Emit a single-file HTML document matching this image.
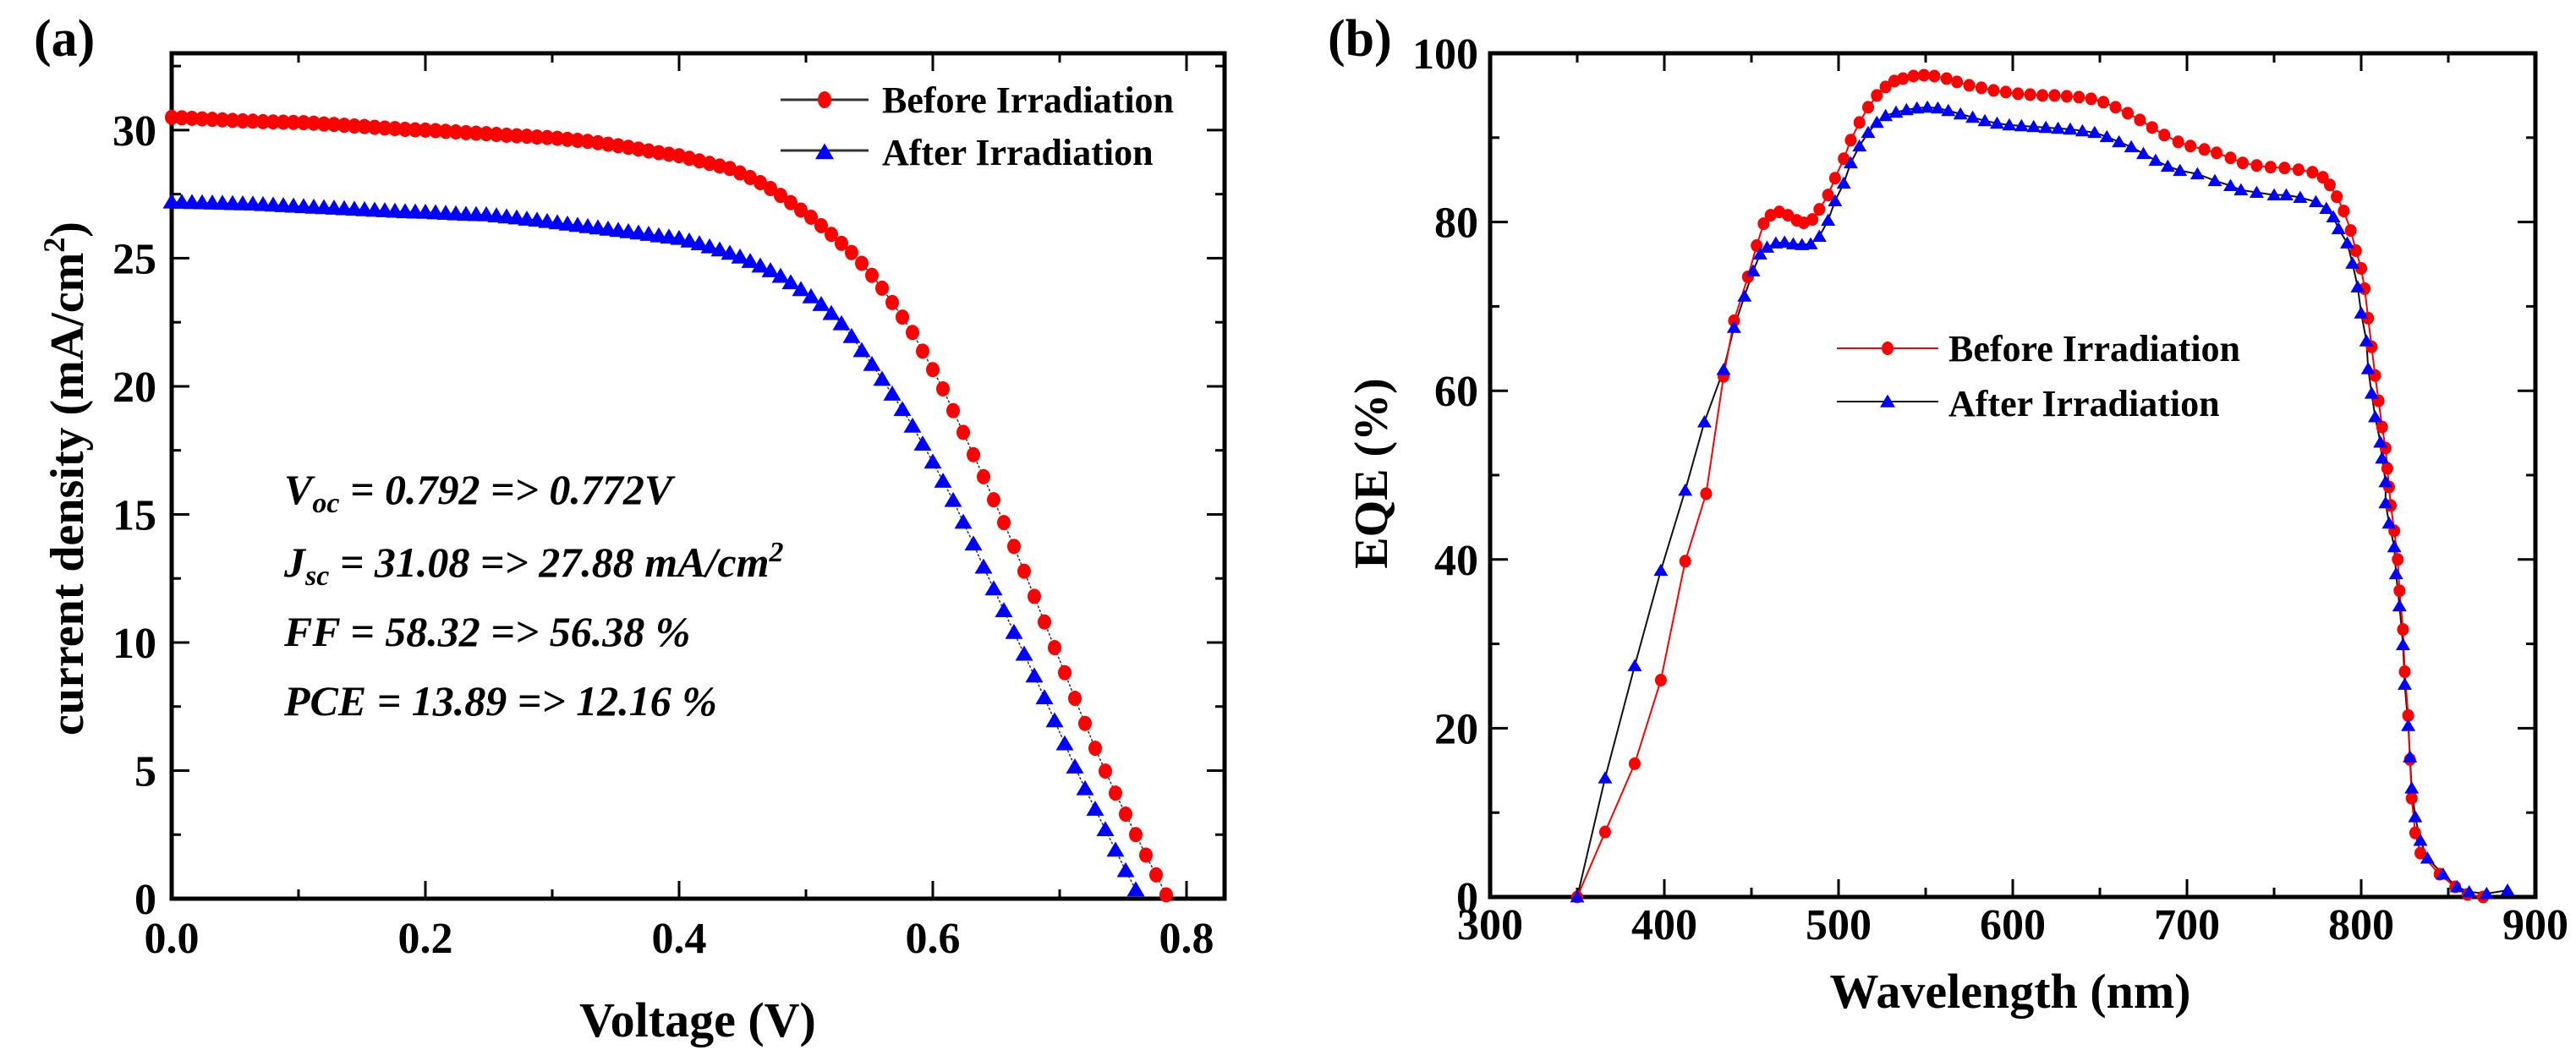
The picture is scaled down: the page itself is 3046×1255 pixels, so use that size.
<!DOCTYPE html>
<html><head><meta charset="utf-8"><style>
html,body{margin:0;padding:0;background:#fff}
svg{display:block;font-family:"Liberation Serif",serif;font-weight:bold}
</style></head><body>
<svg id="fig" width="3046" height="1255" viewBox="0 0 3046 1255" xmlns="http://www.w3.org/2000/svg">
<g id="pa"></g>
<g id="pb"></g>
</svg>
<script>
// ---- Panel (a) data ----
const jvVoltBefore = [0,0.008,0.016,0.024,0.032,0.04,0.048,0.056,0.064,0.072,0.08,0.088,0.096,0.104,0.112,0.12,0.128,0.136,0.144,0.152,0.16,0.168,0.176,0.184,0.192,0.2,0.208,0.216,0.224,0.232,0.24,0.248,0.256,0.264,0.272,0.28,0.288,0.296,0.304,0.312,0.32,0.328,0.336,0.344,0.352,0.36,0.368,0.376,0.384,0.392,0.4,0.408,0.416,0.424,0.432,0.44,0.448,0.456,0.464,0.472,0.48,0.488,0.496,0.504,0.512,0.52,0.528,0.536,0.544,0.552,0.56,0.568,0.576,0.584,0.592,0.6,0.608,0.616,0.624,0.632,0.64,0.648,0.656,0.664,0.672,0.68,0.688,0.696,0.704,0.712,0.72,0.728,0.736,0.744,0.752,0.76,0.768,0.776,0.784];
const jvCurrBefore = [30.5,30.48,30.46,30.44,30.42,30.4,30.38,30.36,30.35,30.33,30.32,30.31,30.3,30.29,30.27,30.24,30.22,30.19,30.16,30.14,30.11,30.08,30.06,30.03,30.01,30.0,29.98,29.95,29.93,29.9,29.88,29.86,29.83,29.8,29.78,29.76,29.73,29.71,29.68,29.64,29.6,29.56,29.51,29.45,29.39,29.33,29.26,29.19,29.12,29.06,29.0,28.9,28.8,28.7,28.6,28.5,28.33,28.15,27.95,27.72,27.45,27.17,26.88,26.6,26.27,25.93,25.58,25.22,24.8,24.33,23.83,23.27,22.7,22.1,21.37,20.65,19.9,19.05,18.2,17.33,16.47,15.57,14.68,13.75,12.78,11.8,10.8,9.8,8.82,7.82,6.84,5.87,4.98,4.12,3.3,2.5,1.7,0.93,0.15];
const jvVoltAfter = [0,0.008,0.016,0.024,0.032,0.04,0.048,0.056,0.064,0.072,0.08,0.088,0.096,0.104,0.112,0.12,0.128,0.136,0.144,0.152,0.16,0.168,0.176,0.184,0.192,0.2,0.208,0.216,0.224,0.232,0.24,0.248,0.256,0.264,0.272,0.28,0.288,0.296,0.304,0.312,0.32,0.328,0.336,0.344,0.352,0.36,0.368,0.376,0.384,0.392,0.4,0.408,0.416,0.424,0.432,0.44,0.448,0.456,0.464,0.472,0.48,0.488,0.496,0.504,0.512,0.52,0.528,0.536,0.544,0.552,0.56,0.568,0.576,0.584,0.592,0.6,0.608,0.616,0.624,0.632,0.64,0.648,0.656,0.664,0.672,0.68,0.688,0.696,0.704,0.712,0.72,0.728,0.736,0.744,0.752,0.76];
const jvCurrAfter = [27.2,27.19,27.18,27.17,27.16,27.15,27.14,27.13,27.12,27.1,27.08,27.06,27.04,27.02,27.0,26.98,26.96,26.94,26.92,26.9,26.88,26.86,26.84,26.82,26.81,26.8,26.78,26.76,26.74,26.72,26.71,26.7,26.66,26.62,26.58,26.53,26.49,26.44,26.39,26.34,26.29,26.24,26.19,26.14,26.09,26.04,25.99,25.94,25.88,25.83,25.78,25.68,25.57,25.45,25.33,25.2,25.05,24.88,24.7,24.52,24.3,24.05,23.78,23.5,23.2,22.85,22.45,21.95,21.4,20.86,20.28,19.7,19.1,18.45,17.75,17.05,16.3,15.55,14.7,13.85,12.95,12.1,11.25,10.4,9.55,8.7,7.85,6.95,6.05,5.15,4.3,3.5,2.7,1.9,1.1,0.35];
const jvXTicks = [0.0,0.2,0.4,0.6,0.8];
const jvXTickLabels = ["0.0","0.2","0.4","0.6","0.8"];
const jvYTicks = [0,5,10,15,20,25,30];
const jvYTickLabels = ["0","5","10","15","20","25","30"];
// ---- Panel (b) data ----
const eqeWlBefore = [350,366,383,398,412,424,434,440,448,453,457,461,466,471,476,480,485,489,494,498,503,507,512,517,522,527,532,537,543,549,555,562,568,575,582,589,596,603,610,617,624,631,638,645,652,659,666,673,680,687,695,702,710,717,725,732,740,748,756,764,772,778,782,786,790,794,797,800,802,804,806,808,810,812,814,815,816,817,819,821,822,824,825,827,828,829,831,834,845,854,861,870];
const eqeValBefore = [0,7.7,15.8,25.7,39.8,47.8,61.7,68.3,73.5,77.2,79.8,80.8,81.2,80.8,80.2,79.9,80.3,81.5,83.2,85.2,87.5,89.7,91.8,93.6,95.0,96.0,96.7,97.0,97.3,97.4,97.3,97.0,96.6,96.2,95.9,95.6,95.4,95.2,95.1,95.0,95.0,94.9,94.8,94.6,94.2,93.6,92.9,92.1,91.2,90.3,89.5,89.0,88.6,88.2,87.6,87.0,86.7,86.5,86.4,86.2,85.9,85.3,84.4,83.0,81.3,79.0,76.6,74.5,72.1,68.6,65.2,61.8,58.8,55.7,53.2,50.8,48.6,46.4,43.4,40.0,36.3,31.7,26.7,21.5,16.3,11.7,7.6,5.2,2.7,1.2,0.3,0.0];
const eqeWlAfter = [350,366,383,398,412,423,434,440,446,451,455,459,464,469,474,479,484,489,494,498,503,507,512,517,522,527,533,539,545,551,557,563,570,577,584,591,598,605,612,619,626,633,640,647,654,661,668,675,682,689,696,706,716,725,731,740,750,757,765,774,780,784,787,792,795,798,800,803,804,806,808,811,812,814,814,816,819,820,822,824,825,827,828,829,831,834,838,847,855,862,872,884];
const eqeValAfter = [0,14.1,27.4,38.7,48.2,56.3,62.5,67.5,71.2,74.2,76.2,77.0,77.5,77.6,77.4,77.3,77.4,78.3,80.2,82.5,84.6,87.0,89.0,90.6,91.8,92.6,93.0,93.3,93.5,93.6,93.5,93.2,92.8,92.4,92.0,91.7,91.5,91.4,91.3,91.2,91.1,91.0,90.8,90.6,90.1,89.5,88.9,88.1,87.3,86.6,86.1,85.7,84.9,84.3,83.8,83.5,83.2,83.2,82.9,82.4,81.6,80.6,79.2,77.5,75.1,72.3,69.2,65.9,62.6,59.7,56.9,53.9,52.0,49.2,46.7,44.3,41.5,38.3,34.5,29.9,25.2,20.3,16.6,12.9,9.5,6.7,4.6,2.7,1.2,0.6,0.4,0.8];
const eqeXTicks = [300,400,500,600,700,800,900];
const eqeXTickLabels = ["300","400","500","600","700","800","900"];
const eqeYTicks = [0,20,40,60,80,100];
const eqeYTickLabels = ["0","20","40","60","80","100"];

const NS = "http://www.w3.org/2000/svg";
function mk(parent, tag, attrs, text){
  const e = document.createElementNS(NS, tag);
  for (const k in attrs) e.setAttribute(k, attrs[k]);
  if (text !== undefined) e.textContent = text;
  parent.appendChild(e);
  return e;
}

// ===== Panel A =====
const pa = document.getElementById('pa');
const A = {l:203, r:1448, t:63, b:1063, xr:1403, y0:0, y1:33};
const ax = v => A.l + v / 0.8 * (A.xr - A.l);
const ay = v => A.b - (v - A.y0) / (A.y1 - A.y0) * (A.b - A.t);

for (let v = 0.1; v < 0.85; v += 0.2) {
  const x = ax(v);
  let t = mk(pa,'line',{x1:x,y1:A.b,x2:x,y2:A.b-11,stroke:'#000','stroke-width':3});
  
  
  t = mk(pa,'line',{x1:x,y1:A.t,x2:x,y2:A.t+11,stroke:'#000','stroke-width':3});
  
  
}
for (let v = 2.5; v < 33; v += 5) {
  const y = ay(v);
  let t = mk(pa,'line',{x1:A.l,y1:y,x2:A.l+11,y2:y,stroke:'#000','stroke-width':3});
  
  
  t = mk(pa,'line',{x1:A.r,y1:y,x2:A.r-11,y2:y,stroke:'#000','stroke-width':3});
  
  
}
jvXTicks.forEach((v,i) => {
  const x = ax(v);
  let t = mk(pa,'line',{x1:x,y1:A.b,x2:x,y2:A.b-21,stroke:'#000','stroke-width':3});
  
  
  t = mk(pa,'line',{x1:x,y1:A.t,x2:x,y2:A.t+21,stroke:'#000','stroke-width':3});
  
  
  t = mk(pa,'text',{x:x,y:A.b+64,'font-size':52,'text-anchor':'middle'},jvXTickLabels[i]);
  
  
});
jvYTicks.forEach((v,i) => {
  const y = ay(v);
  let t = mk(pa,'line',{x1:A.l,y1:y,x2:A.l+21,y2:y,stroke:'#000','stroke-width':3});
  
  
  t = mk(pa,'line',{x1:A.r,y1:y,x2:A.r-21,y2:y,stroke:'#000','stroke-width':3});
  
  
  t = mk(pa,'text',{x:A.l-18,y:y+18,'font-size':52,'text-anchor':'end'},jvYTickLabels[i]);
  
  
});
let fa = mk(pa,'rect',{x:A.l,y:A.t,width:A.r-A.l,height:A.b-A.t,fill:'none',stroke:'#000','stroke-width':5});



function polyPts(xs, ys, fx, fy){ return xs.map((v,i)=>fx(v)+','+fy(ys[i])).join(' '); }
let la = mk(pa,'polyline',{points:polyPts(jvVoltBefore,jvCurrBefore,ax,ay),fill:'none',stroke:'#333','stroke-width':1.5,'stroke-dasharray':'3,2'});


la = mk(pa,'polyline',{points:polyPts(jvVoltAfter,jvCurrAfter,ax,ay),fill:'none',stroke:'#333','stroke-width':1.5,'stroke-dasharray':'3,2'});


function tri(cx, cy, s){ return `${cx},${cy-s*0.95} ${cx-s},${cy+s*0.75} ${cx+s},${cy+s*0.75}`; }
jvVoltBefore.forEach((v,i)=>{
  const c = mk(pa,'ellipse',{cx:ax(v),cy:ay(jvCurrBefore[i]),rx:8,ry:9,fill:'#ff0000'});
  
  
});
jvVoltAfter.forEach((v,i)=>{
  const c = mk(pa,'polygon',{points:tri(ax(v),ay(jvCurrAfter[i]),10.5),fill:'#0000ff'});
  
  
});
let lg = mk(pa,'g',{});


mk(lg,'line',{x1:923,y1:118,x2:1027,y2:118,stroke:'#333','stroke-width':3});
mk(lg,'ellipse',{cx:975,cy:118,rx:8,ry:10,fill:'#ff0000'});
mk(lg,'text',{x:1043,y:133,'font-size':44},'Before Irradiation');
mk(lg,'line',{x1:923,y1:178,x2:1027,y2:178,stroke:'#333','stroke-width':3});
mk(lg,'polygon',{points:tri(975,180,11),fill:'#0000ff'});
mk(lg,'text',{x:1043,y:195,'font-size':44},'After Irradiation');
const ann = mk(pa,'g',{'font-size':50,'font-style':'italic'});


let tx = mk(ann,'text',{x:336,y:596});
tx.innerHTML = 'V<tspan font-size="34" dy="10">oc</tspan><tspan dy="-10"> = 0.792 =&gt; 0.772V</tspan>';
tx = mk(ann,'text',{x:336,y:682});
tx.innerHTML = 'J<tspan font-size="34" dy="10">sc</tspan><tspan dy="-10"> = 31.08 =&gt; 27.88 mA/cm</tspan><tspan font-size="34" dy="-18">2</tspan>';
mk(ann,'text',{x:336,y:764},'FF = 58.32 => 56.38 %');
mk(ann,'text',{x:336,y:846},'PCE = 13.89 => 12.16 %');
let tt = mk(pa,'text',{x:825,y:1226,'font-size':58,'text-anchor':'middle'},'Voltage (V)');


tt = mk(pa,'text',{x:0,y:0,'font-size':56,'text-anchor':'middle',transform:'translate(98,566) rotate(-90)'});
tt.innerHTML = 'current density (mA/cm<tspan font-size="36" dy="-22">2</tspan><tspan dy="22">)</tspan>';


tt = mk(pa,'text',{x:40,y:66,'font-size':62},'(a)');



// ===== Panel B =====
const pb = document.getElementById('pb');
const B = {l:1762, r:2998, t:63, b:1061};
const bx = v => B.l + (v - 300) / 600 * (B.r - B.l);
const by = v => B.b - v / 100 * (B.b - B.t);
for (let v = 350; v < 900; v += 100) {
  const x = bx(v);
  let t = mk(pb,'line',{x1:x,y1:B.b,x2:x,y2:B.b-11,stroke:'#000','stroke-width':3});
  
  
  t = mk(pb,'line',{x1:x,y1:B.t,x2:x,y2:B.t+11,stroke:'#000','stroke-width':3});
  
  
}
for (let v = 10; v < 100; v += 20) {
  const y = by(v);
  let t = mk(pb,'line',{x1:B.l,y1:y,x2:B.l+11,y2:y,stroke:'#000','stroke-width':3});
  
  
  t = mk(pb,'line',{x1:B.r,y1:y,x2:B.r-11,y2:y,stroke:'#000','stroke-width':3});
  
  
}
eqeXTicks.forEach((v,i)=>{
  const x = bx(v);
  let t = mk(pb,'line',{x1:x,y1:B.b,x2:x,y2:B.b-21,stroke:'#000','stroke-width':3});
  
  
  t = mk(pb,'line',{x1:x,y1:B.t,x2:x,y2:B.t+21,stroke:'#000','stroke-width':3});
  
  
  t = mk(pb,'text',{x:x,y:B.b+50,'font-size':52,'text-anchor':'middle'},eqeXTickLabels[i]);
  
  
});
eqeYTicks.forEach((v,i)=>{
  const y = by(v);
  let t = mk(pb,'line',{x1:B.l,y1:y,x2:B.l+21,y2:y,stroke:'#000','stroke-width':3});
  
  
  t = mk(pb,'line',{x1:B.r,y1:y,x2:B.r-21,y2:y,stroke:'#000','stroke-width':3});
  
  
  t = mk(pb,'text',{x:B.l-14,y:y+18,'font-size':52,'text-anchor':'end'},eqeYTickLabels[i]);
  
  
});
let fb = mk(pb,'rect',{x:B.l,y:B.t,width:B.r-B.l,height:B.b-B.t,fill:'none',stroke:'#000','stroke-width':5});


let lb = mk(pb,'polyline',{points:polyPts(eqeWlAfter,eqeValAfter,bx,by),fill:'none',stroke:'#111','stroke-width':2});


lb = mk(pb,'polyline',{points:polyPts(eqeWlBefore,eqeValBefore,bx,by),fill:'none',stroke:'#ff0000','stroke-width':2});


eqeWlBefore.forEach((v,i)=>{
  const c = mk(pb,'ellipse',{cx:bx(v),cy:by(eqeValBefore[i]),rx:7,ry:7.5,fill:'#ff0000'});
  
  
});
eqeWlAfter.forEach((v,i)=>{
  const c = mk(pb,'polygon',{points:tri(bx(v),by(eqeValAfter[i]),8.5),fill:'#0000ff'});
  
  
});
let lgb = mk(pb,'g',{});


mk(lgb,'line',{x1:2172,y1:412,x2:2292,y2:412,stroke:'#ff0000','stroke-width':2});
mk(lgb,'ellipse',{cx:2232,cy:412,rx:7,ry:8,fill:'#ff0000'});
mk(lgb,'text',{x:2304,y:427,'font-size':44},'Before Irradiation');
mk(lgb,'line',{x1:2172,y1:475,x2:2292,y2:475,stroke:'#111','stroke-width':2});
mk(lgb,'polygon',{points:tri(2232,475,9),fill:'#0000ff'});
mk(lgb,'text',{x:2304,y:492,'font-size':44},'After Irradiation');
tt = mk(pb,'text',{x:2377,y:1192,'font-size':58,'text-anchor':'middle'},'Wavelength (nm)');


tt = mk(pb,'text',{x:0,y:0,'font-size':56,'text-anchor':'middle',transform:'translate(1640,560) rotate(-90)'},'EQE (%)');


tt = mk(pb,'text',{x:1570,y:66,'font-size':62},'(b)');


</script>
</body></html>
